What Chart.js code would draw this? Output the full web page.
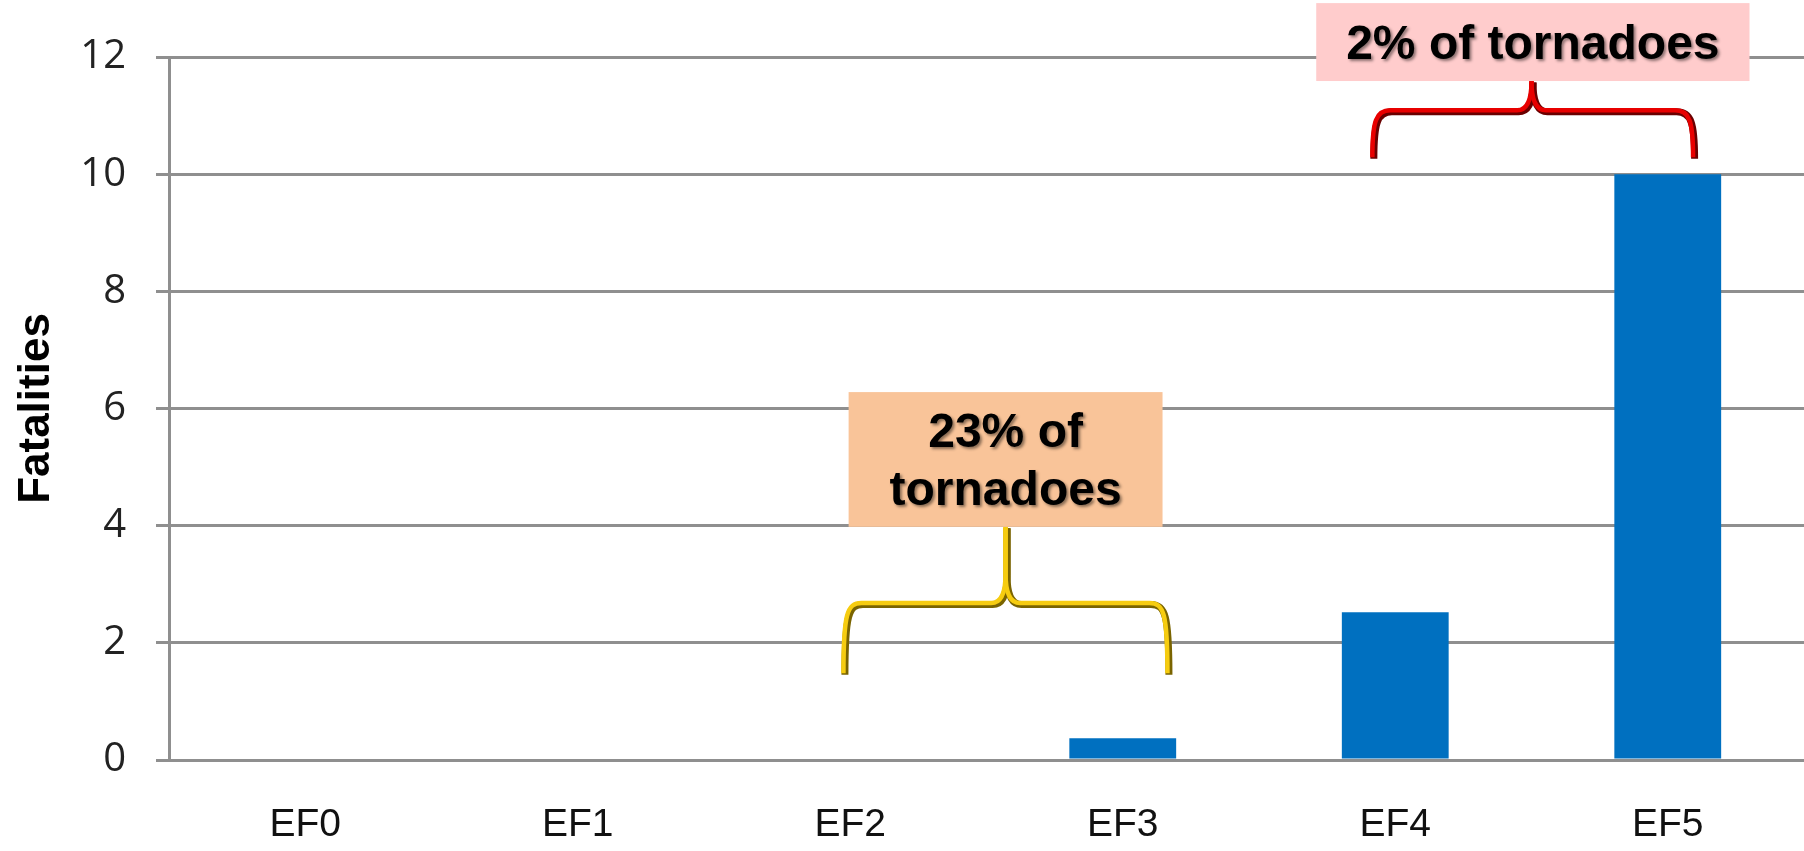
<!DOCTYPE html>
<html>
<head>
<meta charset="utf-8">
<script src="https://cdn.jsdelivr.net/npm/chart.js"></script>
<style>
  body { margin: 0; background: #fff; }
  #wrap { width: 1804px; height: 851px; position: relative; }
</style>
</head>
<body>
<div id="wrap"><canvas id="barChart"></canvas></div>
<script>
// data
const categories = ["EF0", "EF1", "EF2", "EF3", "EF4", "EF5"];
const fatalities = [0, 0, 0, 0.37, 2.52, 10];
const yTicks = [0, 2, 4, 6, 8, 10, 12];

// callout boxes + braces, placed in category-index / value units
const callouts = [
  {
    lines: ["23% of", "tornadoes"],
    box: { x0: 1.994, x1: 3.146, y0: 3.98, y1: 6.28 },
    brace: { x0: 1.975, x1: 3.164, mid: 2.57, foot: 1.48, bar: 2.68 },
    fill: "#f9c499",
    line: "#f6cc10",
    dark: "#7a6400",
  },
  {
    lines: ["2% of tornadoes"],
    box: { x0: 3.71, x1: 5.3, y0: 11.59, y1: 12.92 },
    brace: { x0: 3.916, x1: 5.093, mid: 4.5, foot: 10.29, bar: 11.09 },
    fill: "#ffcccc",
    line: "#e80000",
    dark: "#6a0000",
  },
];

const gridGrey = "#8f8f8f";

function bracePath(ctx, x, xm, yFoot, yBar, yTop, r) {
  const dir = xm > x ? 1 : -1;
  ctx.beginPath();
  ctx.moveTo(x, yFoot);
  ctx.bezierCurveTo(x, yBar + r * 0.6, x + dir * r * 0.2, yBar, x + dir * r, yBar);
  ctx.lineTo(xm - dir * r * 0.8, yBar);
  ctx.quadraticCurveTo(xm, yBar, xm, yBar - r * 1.6);
  ctx.lineTo(xm, yTop);
  ctx.stroke();
}

const calloutPlugin = {
  id: "callouts",
  afterDraw(chart) {
    const ctx = chart.ctx;
    const xs = chart.scales.x;
    const ys = chart.scales.y;
    for (const c of callouts) {
      const b = c.brace;
      const bx0 = xs.getPixelForValue(b.x0);
      const bx1 = xs.getPixelForValue(b.x1);
      const bm = xs.getPixelForValue(b.mid);
      const yFoot = ys.getPixelForValue(b.foot);
      const yBar = ys.getPixelForValue(b.bar);
      const yTop = ys.getPixelForValue(c.box.y0);

      ctx.save();
      ctx.lineCap = "butt";
      ctx.lineJoin = "round";
      // dark edge first, then the colour on top
      ctx.strokeStyle = c.dark;
      ctx.lineWidth = 7;
      ctx.translate(1.5, 1.5);
      bracePath(ctx, bx0, bm, yFoot, yBar, yTop, 18);
      bracePath(ctx, bx1, bm, yFoot, yBar, yTop, 18);
      ctx.translate(-1.5, -1.5);
      ctx.strokeStyle = c.line;
      ctx.lineWidth = 4.5;
      bracePath(ctx, bx0, bm, yFoot, yBar, yTop, 18);
      bracePath(ctx, bx1, bm, yFoot, yBar, yTop, 18);
      ctx.restore();

      // box
      const x0 = xs.getPixelForValue(c.box.x0);
      const x1 = xs.getPixelForValue(c.box.x1);
      const y0 = ys.getPixelForValue(c.box.y1);
      const y1 = ys.getPixelForValue(c.box.y0);
      ctx.save();
      ctx.fillStyle = c.fill;
      ctx.fillRect(x0, y0, x1 - x0, y1 - y0);

      ctx.font = "bold 48px 'Liberation Sans', Arial, sans-serif";
      ctx.textAlign = "center";
      ctx.textBaseline = "alphabetic";
      ctx.fillStyle = "#000";
      ctx.shadowColor = "rgba(0,0,0,0.45)";
      ctx.shadowOffsetX = 2;
      ctx.shadowOffsetY = 2;
      ctx.shadowBlur = 3;
      const lh = 58;
      const cy = (y0 + y1) / 2 + 17;
      const cx = (x0 + x1) / 2;
      c.lines.forEach((t, i) => {
        ctx.fillText(t, cx, cy + (i - (c.lines.length - 1) / 2) * lh);
      });
      ctx.restore();
    }
  },
};

const ctx = document.getElementById("barChart").getContext("2d");
new Chart(ctx, {
  type: "bar",
  data: {
    labels: categories,
    datasets: [
      {
        label: "Fatalities",
        data: fatalities,
        backgroundColor: "#0070c0",
        borderWidth: 0,
        categoryPercentage: 1,
        barPercentage: 0.392,
      },
    ],
  },
  options: {
    responsive: true,
    maintainAspectRatio: false,
    animation: false,
    layout: { padding: { top: 57, right: 0, bottom: 0, left: 0 } },
    plugins: {
      legend: { display: false },
      tooltip: { enabled: false },
    },
    scales: {
      x: {
        afterFit(scale) {
          scale.height = 91;
          scale.paddingLeft = 0;
          scale.paddingRight = 0;
        },
        grid: { display: false, drawTicks: false },
        border: { display: false },
        ticks: {
          padding: 42,
          color: "#111",
          font: { family: "'Liberation Sans', Arial, sans-serif", size: 39 },
        },
      },
      y: {
        min: 0,
        max: 12,
        afterBuildTicks(scale) {
          scale.ticks = yTicks.map((v) => ({ value: v }));
        },
        afterFit(scale) {
          scale.width = 169;
          scale.paddingTop = 0;
          scale.paddingBottom = 0;
        },
        grid: {
          color: gridGrey,
          lineWidth: 3,
          tickLength: 13,
          tickColor: gridGrey,
        },
        border: { color: gridGrey, width: 3 },
        ticks: {
          padding: 30,
          color: "#222",
          font: { family: "'Open Sans', sans-serif", size: 40 },
        },
        title: {
          display: true,
          text: "Fatalities",
          color: "#000",
          padding: { top: 10, bottom: 20 },
          font: { family: "'Liberation Sans', Arial, sans-serif", size: 44, weight: "bold" },
        },
      },
    },
  },
  plugins: [calloutPlugin],
});
</script>
</body>
</html>
